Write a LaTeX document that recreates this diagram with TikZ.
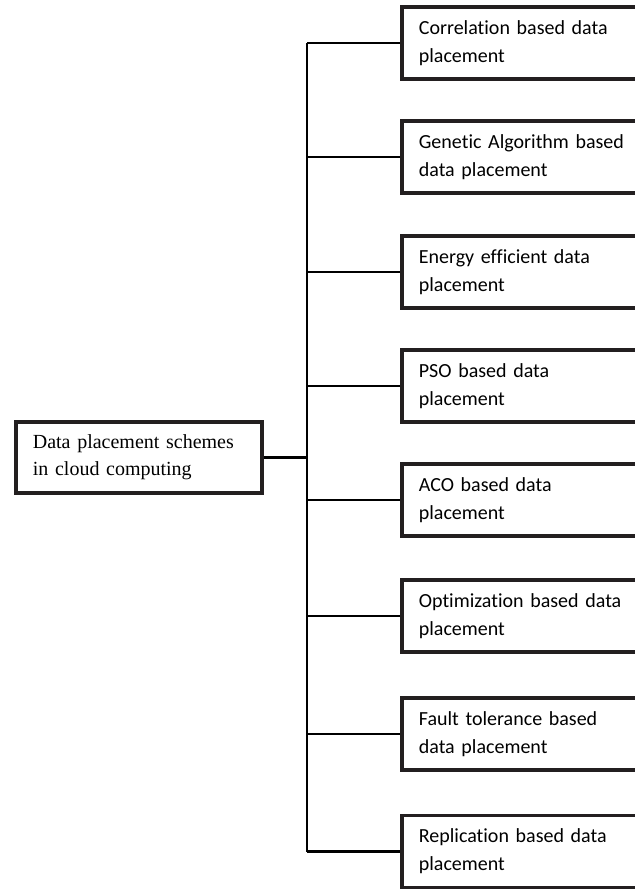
\documentclass[tikz,border=0pt]{standalone}
\usepackage{fontspec}
\setmainfont{Liberation Serif}
\newfontfamily\carfont[Ligatures=NoCommon]{Carlito}
\usetikzlibrary{positioning}
\definecolor{ink}{RGB}{35,31,32}

\begin{document}
\begin{tikzpicture}[x=.75pt,y=-.75pt]
\tikzset{wire/.style={line width=1.8pt,draw=black},
frame/.style={draw=ink,line width=2.8pt,rectangle,inner xsep=12.75pt,inner ysep=0pt,align=left},
rootbox/.style={frame,text width=159pt,minimum height=53.5pt,font=\fontsize{15}{20}\selectfont},
item/.style={frame,text width=175pt,minimum height=54pt,font=\carfont\fontsize{15}{21}\selectfont}}
\useasboundingbox (0,0) rectangle (635,889);
\clip (0,0) rectangle (635,889);
\node[rootbox,anchor=west] (root) at (14,457.5){Data placement schemes\\in cloud computing};
\foreach \y/\t [count=\i] in {43/{Correlation based data\\placement},157/{Genetic Algorithm based\\data placement},
272/{Energy efficient data\\placement},386/{PSO based data\\placement},500/{ACO based data\\placement},
616/{Optimization based data\\placement},734/{Fault tolerance based\\data placement},851.5/{Replication based data\\placement}}
{\node[item,anchor=west] (b\i) at (400,\y){\t};}
\coordinate (spine) at (307,43);
\draw[wire] (b1.west -| spine)--(b8.west -| spine);
\foreach \i in {1,...,8}{\draw[wire] (b\i.west)--(b\i.west -| spine);}
\draw[wire] (root.east)--(root.east -| spine);
\end{tikzpicture}
\end{document}
